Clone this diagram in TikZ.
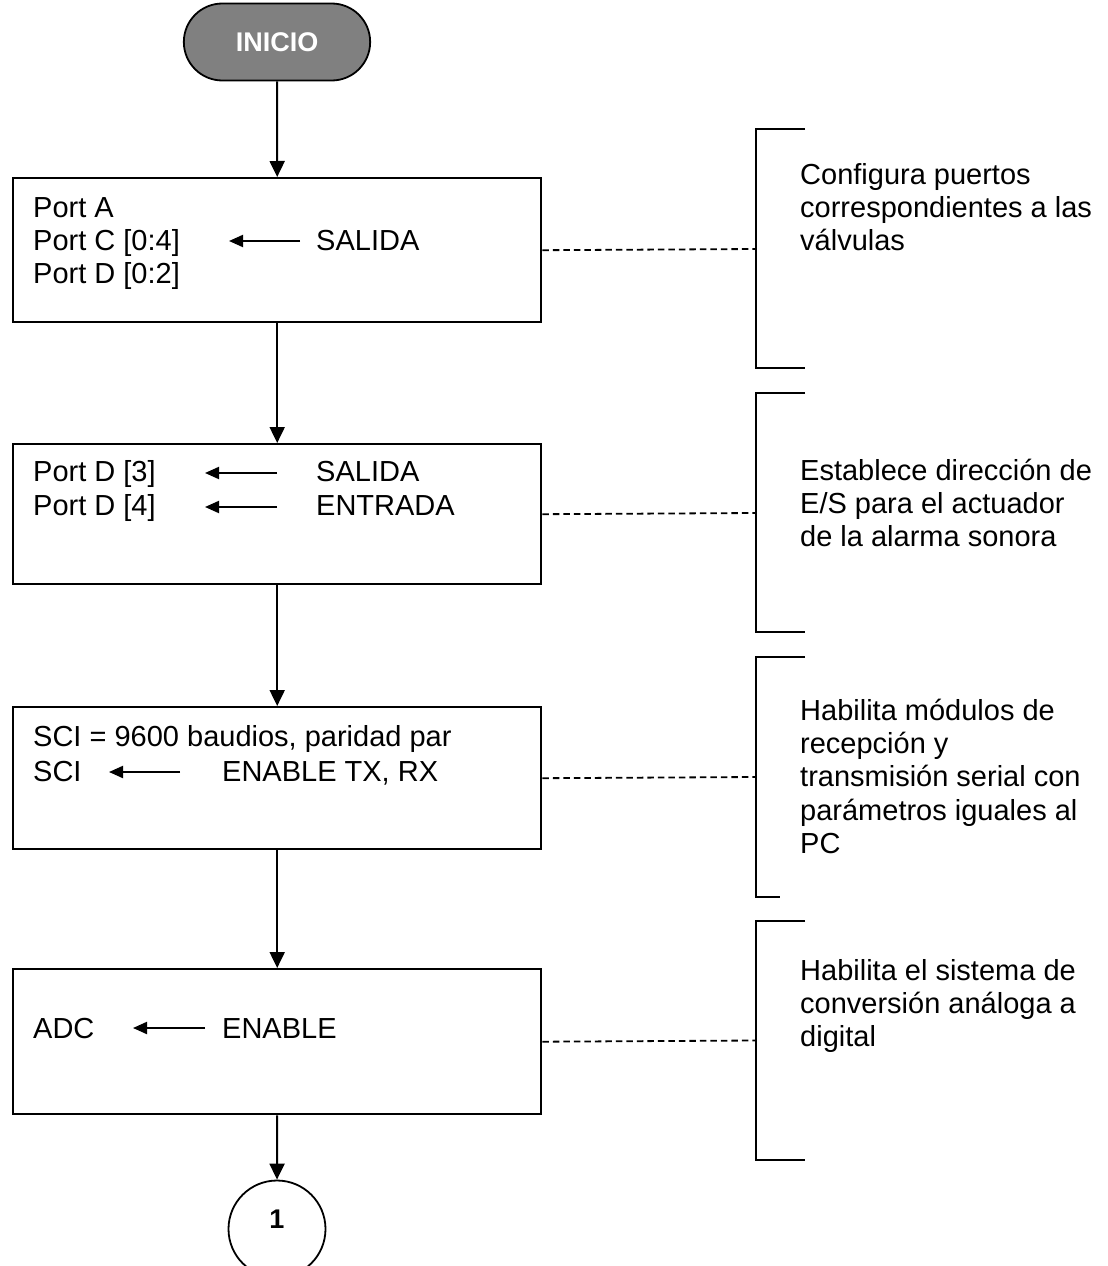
\documentclass[tikz,border=0pt]{standalone}
\usepackage{fontspec}
\setmainfont{Liberation Sans}
\usetikzlibrary{arrows.meta,shapes.misc}
\definecolor{termgray}{HTML}{808080}
\begin{document}
\begin{tikzpicture}[x=1pt,y=-1pt,
  txt/.style={font=\fontsize{29}{33.3}\selectfont, inner sep=0pt, anchor=base west},
  side/.style={font=\fontsize{29}{33.3}\selectfont, inner sep=0pt, anchor=north west, align=left},
  procbox/.style={draw, line width=2.4pt, anchor=north west, minimum width=528pt, inner sep=0pt},
  flow/.style={line width=2pt, -{Triangle[length=16pt,width=15pt]}},
  inarrow/.style={line width=2pt, -{Triangle[length=14pt,width=12pt]}},
  link/.style={dash pattern=on 6.5pt off 4pt, line width=1.8pt},
  brack/.style={line width=2pt},
]
\useasboundingbox (0,0) rectangle (1108,1266);

% terminal
\node[rounded rectangle, draw, line width=1.8pt, fill=termgray, minimum width=193pt, minimum height=77pt,
      text=white, font=\fontsize{27}{30}\selectfont\bfseries] (ini) at (277,42) {INICIO};

% process boxes
\node[procbox, minimum height=144pt] (b1) at (12,177) {};
\node[procbox, minimum height=140pt] (b2) at (12,443) {};
\node[procbox, minimum height=142pt] (b3) at (12,706) {};
\node[procbox, minimum height=145pt] (b4) at (12,968) {};

% connector circle
\node[circle, draw, line width=1.8pt, minimum size=97pt, inner sep=0pt, text depth=20pt,
      font=\fontsize{27}{30}\selectfont\bfseries] (c1) at (277,1229) {1};

% flow arrows
\draw[flow] (ini.south) -- (b1.north);
\draw[flow] (b1.south) -- (b2.north);
\draw[flow] (b2.south) -- (b3.north);
\draw[flow] (b3.south) -- (b4.north);
\draw[flow] (b4.south) -- (c1.north);

% box 1 texts
\node[txt] (p1a) at (33,217) {Port A};
\node[txt] (p1c) at (33,250) {Port C [0:4]};
\node[txt] (p1d) at (33,283) {Port D [0:2]};
\node[txt] (s1) at (316,250) {SALIDA};
\coordinate (a1s) at (300,241);
\coordinate (a1e) at (229,241);
\draw[inarrow] (a1s) -- (a1e);

% box 2 texts
\node[txt] (p2a) at (33,481) {Port D [3]};
\node[txt] (p2b) at (33,515) {Port D [4]};
\node[txt] (s2a) at (316,481) {SALIDA};
\node[txt] (s2b) at (316,515) {ENTRADA};
\coordinate (a2s) at (277,473);
\coordinate (a2e) at (205,473);
\coordinate (a3s) at (277,507);
\coordinate (a3e) at (205,507);
\draw[inarrow] (a2s) -- (a2e);
\draw[inarrow] (a3s) -- (a3e);

% box 3 texts
\node[txt] (p3a) at (33,746) {SCI = 9600 baudios, paridad par};
\node[txt] (p3b) at (33,781) {SCI};
\node[txt] (s3) at (222,781) {ENABLE TX, RX};
\coordinate (a4s) at (180,772);
\coordinate (a4e) at (109,772);
\draw[inarrow] (a4s) -- (a4e);

% box 4 texts
\node[txt] (p4) at (33,1038) {ADC};
\node[txt] (s4) at (222,1038) {ENABLE};
\coordinate (a5s) at (205,1028);
\coordinate (a5e) at (133,1028);
\draw[inarrow] (a5s) -- (a5e);

% brackets
\draw[brack] (805,129) -- (756,129) -- (756,368) -- (805,368);
\draw[brack] (805,393) -- (756,393) -- (756,632) -- (805,632);
\draw[brack] (805,657) -- (756,657) -- (756,897) -- (780,897);
\draw[brack] (805,921) -- (756,921) -- (756,1160) -- (805,1160);

\coordinate (k1) at (756,249);
\coordinate (k2) at (756,513);
\coordinate (k3) at (756,777);
\coordinate (k4) at (756,1040.5);
\draw[link] (b1.east) -- (k1);
\draw[link] (b2.east) -- (k2);
\draw[link] (b3.east) -- (k3);
\draw[link] (b4.east) -- (k4);

% side comments
\node[side] (t1) at (800,157) {\rule{0pt}{27pt}Configura puertos\\correspondientes a las\\válvulas};
\node[side] (t2) at (800,453) {\rule{0pt}{27pt}Establece dirección de\\E/S para el actuador\\de la alarma sonora};
\node[side] (t3) at (800,693) {\rule{0pt}{27pt}Habilita módulos de\\recepción y\\transmisión serial con\\parámetros iguales al\\PC};
\node[side] (t4) at (800,953) {\rule{0pt}{27pt}Habilita el sistema de\\conversión análoga a\\digital};
\end{tikzpicture}
\end{document}
